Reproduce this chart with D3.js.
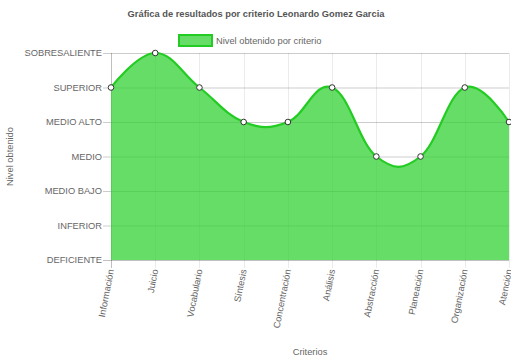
<!DOCTYPE html>
<html>
<head>
<meta charset="utf-8">
<script src="https://cdn.jsdelivr.net/npm/d3@7"></script>
<style>
  body { margin: 0; background: #fff; }
  text { font-family: "Liberation Sans", Arial, sans-serif; fill: #666; }
</style>
</head>
<body>
<svg id="chart"></svg>
<script>
// data
var criterios = ["Información", "Juicio", "Vocabulario", "Síntesis", "Concentración",
  "Análisis", "Abstracción", "Planeación", "Organización", "Atención"];
var niveles = ["DEFICIENTE", "INFERIOR", "MEDIO BAJO", "MEDIO", "MEDIO ALTO", "SUPERIOR", "SOBRESALIENTE"];
var valores = [5, 6, 5, 4, 4, 5, 3, 3, 5, 4];

var screen = {width: 511, height: 361};
var plot = {left: 111, right: 509, top: 53, bottom: 260};

var svg = d3.select("#chart")
  .attr("width", screen.width)
  .attr("height", screen.height);

var x = d3.scalePoint().domain(criterios).range([plot.left, plot.right]);
var y = d3.scaleLinear().domain([0, niveles.length - 1]).range([plot.bottom, plot.top]);

// title
svg.append("text")
  .attr("x", 256).attr("y", 17)
  .attr("text-anchor", "middle")
  .style("font-size", "9.3px").style("font-weight", "bold")
  .style("fill", "#555")
  .text("Gráfica de resultados por criterio Leonardo Gomez Garcia");

// legend
svg.append("rect")
  .attr("x", 179).attr("y", 35).attr("width", 33).attr("height", 11)
  .style("fill", "#66dd66").style("stroke", "#22cc22").style("stroke-width", 2);
svg.append("text")
  .attr("x", 216).attr("y", 44)
  .style("font-size", "9.3px")
  .text("Nivel obtenido por criterio");

// grid horizontal
svg.append("g").selectAll("line")
  .data(d3.range(niveles.length))
  .enter().append("line")
  .attr("x1", plot.left - 8).attr("x2", plot.right)
  .attr("y1", function(d){ return y(d) + 0.5; })
  .attr("y2", function(d){ return y(d) + 0.5; })
  .style("stroke", function(d){ return d == 0 ? "rgba(0,0,0,0.25)" : "rgba(0,0,0,0.2)"; });

// grid vertical
svg.append("g").selectAll("line")
  .data(criterios)
  .enter().append("line")
  .attr("x1", function(d){ return Math.round(x(d)) + 0.5; })
  .attr("x2", function(d){ return Math.round(x(d)) + 0.5; })
  .attr("y1", plot.top).attr("y2", plot.bottom + 8)
  .style("stroke", function(d, i){ return i == 0 ? "rgba(0,0,0,0.25)" : "rgba(0,0,0,0.08)"; });

// y labels
svg.append("g").selectAll("text")
  .data(niveles)
  .enter().append("text")
  .attr("x", plot.left - 9)
  .attr("y", function(d, i){ return y(i); })
  .attr("dy", "0.35em")
  .attr("text-anchor", "end")
  .style("font-size", "9.3px")
  .text(function(d){ return d; });

// x labels
svg.append("g").selectAll("text")
  .data(criterios)
  .enter().append("text")
  .attr("transform", function(d){ return "translate(" + (x(d) + 3) + "," + (plot.bottom + 10) + ") rotate(-79)"; })
  .attr("text-anchor", "end")
  .style("font-size", "9.3px")
  .text(function(d){ return d; });

// axis titles
svg.append("text")
  .attr("transform", "translate(13," + ((plot.top + plot.bottom) / 2) + ") rotate(-90)")
  .attr("text-anchor", "middle")
  .style("font-size", "9.3px")
  .text("Nivel obtenido");
svg.append("text")
  .attr("x", (plot.left + plot.right) / 2).attr("y", 355)
  .attr("text-anchor", "middle")
  .style("font-size", "9.3px")
  .text("Criterios");

// area + line
var curve = d3.curveCardinal.tension(-0.2);
var area = d3.area()
  .x(function(d, i){ return x(criterios[i]); })
  .y0(plot.bottom)
  .y1(function(d){ return y(d); })
  .curve(curve);
var line = d3.line()
  .x(function(d, i){ return x(criterios[i]); })
  .y(function(d){ return y(d); })
  .curve(curve);

svg.append("path").datum(valores).attr("d", area)
  .style("fill", "rgb(51,210,51)").style("fill-opacity", 0.75);
svg.append("path").datum(valores).attr("d", line)
  .style("fill", "none").style("stroke", "#22cc22").style("stroke-width", 2.2);

svg.append("g").selectAll("circle")
  .data(valores)
  .enter().append("circle")
  .attr("cx", function(d, i){ return x(criterios[i]); })
  .attr("cy", function(d){ return y(d); })
  .attr("r", 2.8)
  .style("fill", "#fff").style("stroke", "#333").style("stroke-width", 1);
</script>
</body>
</html>
